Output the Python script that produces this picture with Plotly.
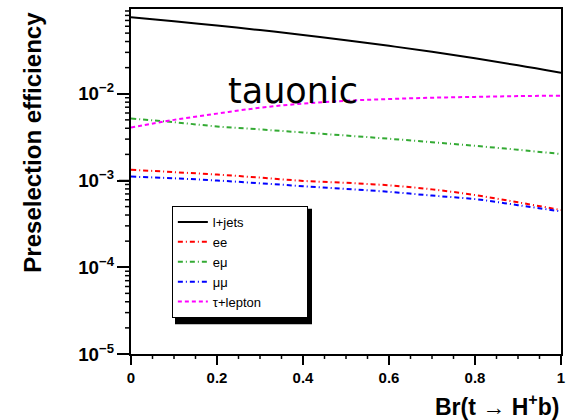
import math
import plotly.graph_objects as go

br = [0.0, 0.1, 0.2, 0.3, 0.4, 0.5, 0.6, 0.7, 0.8, 0.9, 1.0]
ljets = [0.0760, 0.0684, 0.0611, 0.0542, 0.0476, 0.0415, 0.0357, 0.0304, 0.0256, 0.0213, 0.0174]
ee = [0.00133, 0.00125, 0.00117, 0.00108, 0.00099, 0.00094, 0.00088, 0.00079, 0.00068, 0.00056, 0.000457]
emu = [0.00518, 0.00470, 0.00420, 0.00388, 0.00358, 0.00330, 0.00303, 0.00276, 0.00251, 0.00226, 0.00202]
mumu = [0.00111, 0.00106, 0.00100, 0.00093, 0.00086, 0.00080, 0.00074, 0.00067, 0.00061, 0.00052, 0.00044]
taulep = [0.00408, 0.00500, 0.00590, 0.00690, 0.00770, 0.00830, 0.00870, 0.00900, 0.00920, 0.00940, 0.00950]

names = ["l+jets", "ee", "eμ", "μμ", "τ+lepton" + "\u2800" * 4]

x_range = [0.0, 1.0]
y_range_log = [-5.0, -1.023]
x_major = [0, 0.2, 0.4, 0.6, 0.8, 1.0]
x_minor = [round(0.05 * i, 2) for i in range(21) if i % 4 != 0]
y_major = [1e-5, 1e-4, 1e-3, 1e-2]
y_minor = [k * 10.0 ** e for e in range(-5, -1) for k in range(2, 10)
           if math.log10(k * 10.0 ** e) < y_range_log[1]]

series = [ljets, ee, emu, mumu, taulep]
colors = ["#000000", "#ff0000", "#33aa33", "#0000ff", "#ff00ff"]
dashes = ["solid", "5px,3px,1px,3px", "5px,3px,1px,3px", "5px,3px,1px,3px", "4px,3px"]

W, H = 581, 420
ML, MR, MT, MB = 131, 20, 7, 66
PW, PH = W - ML - MR, H - MT - MB

fig = go.Figure()
for nm, ys, c, d in zip(names, series, colors, dashes):
    fig.add_trace(go.Scatter(x=br, y=ys, mode="lines", name=nm,
                             line=dict(color=c, width=2, dash=d, shape="spline")))

axis_font = dict(family="Liberation Sans", size=15, color="black", weight="bold")
fig.update_layout(
    width=W, height=H,
    margin=dict(l=ML, r=MR, t=MT, b=MB),
    paper_bgcolor="white", plot_bgcolor="white",
    font=dict(family="Liberation Sans", color="black"),
    xaxis=dict(range=x_range, tick0=0, dtick=0.2,
               ticks="outside", ticklen=9, tickwidth=2, tickcolor="black",
               showline=True, linewidth=2, linecolor="black", mirror=True,
               showgrid=False, zeroline=False, tickfont=axis_font),
    yaxis=dict(type="log", range=y_range_log, dtick=1, exponentformat="power",
               ticks="outside", ticklen=12, tickwidth=2, tickcolor="black",
               showline=True, linewidth=2, linecolor="black", mirror=True,
               showgrid=False, zeroline=False, tickfont=axis_font),
    legend=dict(x=0.095, y=0.429, xanchor="left", yanchor="top",
                bgcolor="white", bordercolor="black", borderwidth=1,
                font=dict(family="Liberation Sans", size=13, color="black"),
                itemwidth=30),
    showlegend=True,
)

# axis tick marks, placed from the tick value lists through the axis ranges
def x_frac(v):
    return (v - x_range[0]) / (x_range[1] - x_range[0])

def y_frac(v):
    return (math.log10(v) - y_range_log[0]) / (y_range_log[1] - y_range_log[0])

tick_line = dict(color="black", width=1.5)
for v in x_major + x_minor:
    ln = 9 if v in x_major else 5
    fx = x_frac(v)
    fig.add_shape(type="line", xref="paper", yref="paper",
                  x0=fx, x1=fx, y0=0, y1=-ln / PH, line=tick_line, layer="above")
for v in y_major + y_minor:
    ln = 12 if v in y_major else 6
    fy = y_frac(v)
    fig.add_shape(type="line", xref="paper", yref="paper",
                  x0=0, x1=-ln / PW, y0=fy, y1=fy, line=tick_line, layer="above")

# legend drop shadow
fig.add_shape(type="rect", xref="paper", yref="paper",
              x0=(175 - ML) / PW, x1=(312 - ML) / PW,
              y0=(354 - 324) / PH, y1=(354 - 208) / PH,
              fillcolor="black", line=dict(width=0), layer="above")

fig.add_annotation(text="<b>Preselection efficiency</b>", xref="paper", yref="paper",
                   x=-0.23, y=0.997, xanchor="center", yanchor="top", textangle=-90,
                   showarrow=False, font=dict(family="Liberation Sans", size=24, color="black"))
fig.add_annotation(text="<b>Br(t → H<sup>+</sup>b)</b>", xref="paper", yref="paper",
                   x=1.0, y=-0.147, xanchor="right", yanchor="middle",
                   showarrow=False, font=dict(family="Liberation Sans", size=23, color="black"))
fig.add_annotation(text="tauonic", xref="paper", yref="paper",
                   x=0.377, y=0.761, xanchor="center", yanchor="middle",
                   showarrow=False, font=dict(family="DejaVu Sans", size=35, color="black"))

fig.write_html("out.html")
